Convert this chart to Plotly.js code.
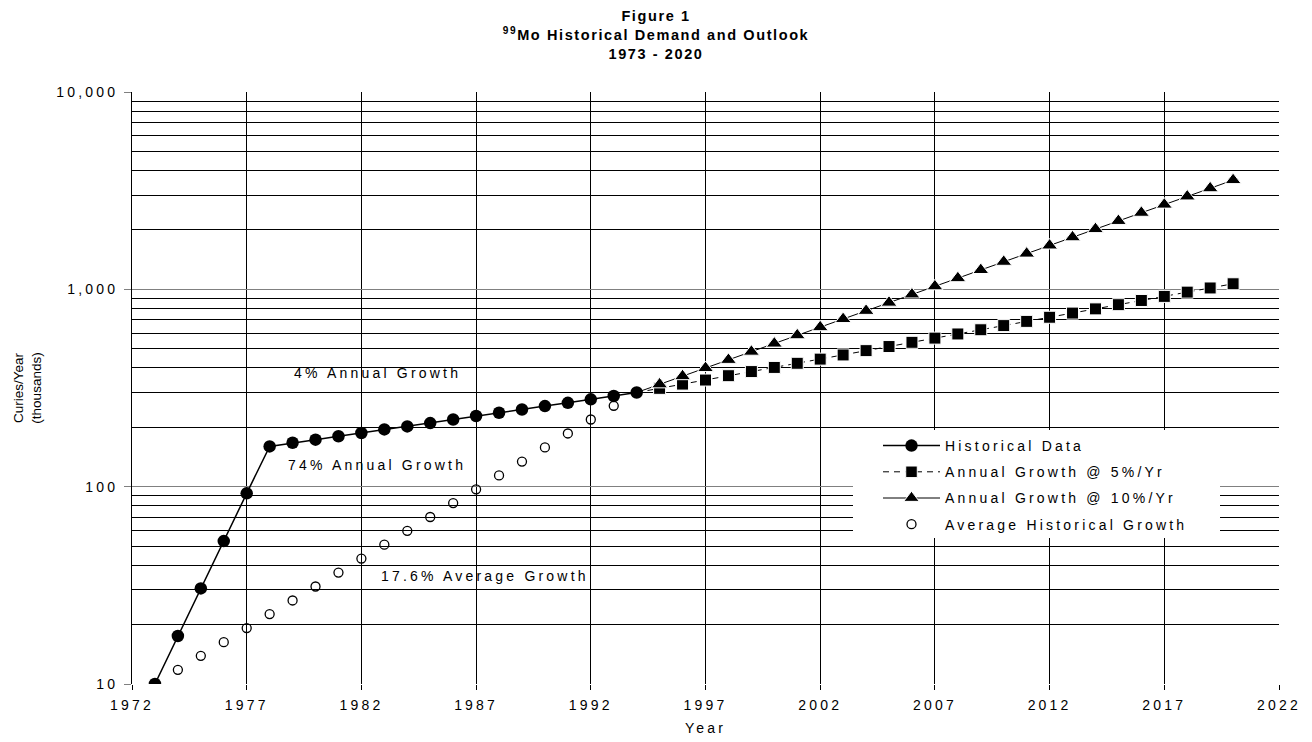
<!DOCTYPE html>
<html>
<head>
<meta charset="utf-8">
<script src="https://cdn.plot.ly/plotly-3.0.1.min.js"></script>
<style>
  html, body { margin: 0; padding: 0; background: #fff; }
  #chart { width: 1312px; height: 742px; }
  .gtitle { letter-spacing: 1.6px; }
  .xtick text, .ytick text, .legendtext, .annotation-text, .xtitle { letter-spacing: 3.2px; }
</style>
</head>
<body>
<div id="chart"></div>
<script>
// ---- Data ----
const histYears = [1973,1974,1975,1976,1977,1978,1979,1980,1981,1982,1983,1984,1985,1986,1987,1988,1989,1990,1991,1992,1993,1994];
const histValues = [10,17.5,30.5,53,92.5,160,167,173,180,187,195,202,210,219,228,237,246,256,266,277,288,300];

const projYears = [1995,1996,1997,1998,1999,2000,2001,2002,2003,2004,2005,2006,2007,2008,2009,2010,2011,2012,2013,2014,2015,2016,2017,2018,2019,2020];
const growth5Values = [315,331,347,365,383,402,422,443,465,489,513,539,566,594,624,655,688,722,758,796,836,878,921,968,1016,1067];
const growth10Values = [330,363,399,439,483,531,585,643,707,778,856,942,1036,1139,1253,1379,1517,1668,1835,2019,2221,2443,2687,2956,3252,3577];

const avgYears = [1974,1975,1976,1977,1978,1979,1980,1981,1982,1983,1984,1985,1986,1987,1988,1989,1990,1991,1992,1993];
const avgValues = [11.8,13.9,16.3,19.2,22.6,26.5,31.2,36.7,43.2,50.8,59.7,70.2,82.6,97,114,134,158,186,219,257];

const seriesNames = ['Historical Data','Annual Growth @ 5%/Yr','Annual Growth @ 10%/Yr','Average Historical Growth'];
const yTickVals = [10,100,1000,10000];
const yTickText = ['10','100','1,000','10,000'];

const noteTexts = ['4% Annual Growth','74% Annual Growth','17.6% Average Growth'];
const noteYears = [1982.7,1982.7,1987.4];
const noteValues = [377,129,35.2];

// ---- Build ----
const FONT = 'Liberation Sans, Arial, sans-serif';
const baseYear = histYears[histYears.length-1];
const baseVal = histValues[histValues.length-1];

const minorVals = [];
[10,100,1000].forEach(d => { for (let k=2;k<=9;k++) minorVals.push(d*k); });

function projSizes(n, s){ const a=[0]; for(let i=0;i<n;i++) a.push(s); return a; }

// plot area in pixels (for the legend's white backing)
const PL = 132, PR = 1279, PT = 92, PB = 684;
function px2year(px){ return 1972 + (px-PL)/(PR-PL)*50; }
function py2val(py){ return Math.pow(10, 4 - (py-PT)/(PB-PT)*3); }

const traces = [
  {
    x: [baseYear].concat(projYears), y: [baseVal].concat(growth5Values),
    name: seriesNames[1], mode: 'lines+markers', legendrank: 2, legendgroup: 'g2',
    line: {color:'#000', width:1, dash:'6px,5px'},
    marker: {symbol:'square', color:'#000', opacity: 1, size: projSizes(projYears.length, 12)}
  },
  {
    x: [baseYear].concat(projYears), y: [baseVal].concat(growth10Values),
    name: seriesNames[2], mode: 'lines+markers', legendrank: 3, legendgroup: 'g3',
    line: {color:'#000', width:1},
    marker: {symbol:'triangle-up', color:'#000', opacity: 1, size: projSizes(projYears.length, 14)}
  },
  {
    x: avgYears, y: avgValues,
    name: seriesNames[3], mode: 'markers', legendrank: 4, legendgroup: 'g4',
    marker: {symbol:'circle-open', color:'#000', size: 9, line:{width:1.3, color:'#000'}}
  },
  {
    x: histYears, y: histValues,
    name: seriesNames[0], mode: 'lines+markers', legendrank: 1, legendgroup: 'g1',
    line: {color:'#000', width:1.5},
    marker: {symbol:'circle', color:'#000', size: 12.5}
  }
];

const annotations = noteTexts.map((t,i) => ({
  x: noteYears[i], y: Math.log10(noteValues[i]), xref:'x', yref:'y',
  text: t, showarrow: false, font: {family: FONT, size: 14, color:'#000'}
}));

const layout = {
  width: 1312, height: 742,
  paper_bgcolor: '#fff', plot_bgcolor: '#fff',
  margin: {l:PL, r:1312-PR, t:PT, b:742-PB, autoexpand:false},
  font: {family: FONT, color:'#000', size: 14},
  title: {
    text: 'Figure 1<br><sup>99</sup>Mo Historical Demand and Outlook<br>1973 - 2020',
    font: {family: FONT, size: 14.5, weight: 'bold', color:'#000'},
    x: 0.5, xanchor: 'center', y: 1 - 21/742, yanchor: 'middle', yref: 'container'
  },
  xaxis: {
    range: [1972, 2022], tick0: 1972, dtick: 5,
    showgrid: true, gridcolor: '#000', gridwidth: 1,
    zeroline: false, showline: false,
    ticks: 'outside', ticklen: 5, tickcolor: '#000',
    ticklabelstandoff: 3,
    tickfont: {family: FONT, size: 14},
    title: {text: 'Year', font: {family: FONT, size: 14}, standoff: 11}
  },
  yaxis: {
    type: 'log', range: [1, 4],
    tickmode: 'array', tickvals: yTickVals, ticktext: yTickText,
    showgrid: true, gridcolor: '#808080', gridwidth: 1.5,
    zeroline: false, showline: true, linecolor: '#000', linewidth: 1,
    ticks: 'outside', ticklen: 7, tickcolor: '#808080',
    ticklabelstandoff: 3,
    tickfont: {family: FONT, size: 14},
    minor: {tickmode:'array', tickvals: minorVals, showgrid: true, gridcolor:'#000', gridwidth: 1, ticks: ''},
    title: {text: 'Curies/Year<br>(thousands)', font: {family: FONT, size: 13.5}, standoff: 11}
  },
  legend: {
    x: (878-PL)/(PR-PL), y: (PB-430)/(PB-PT), xanchor: 'left', yanchor: 'top',
    bgcolor: 'rgba(0,0,0,0)', borderwidth: 0,
    font: {family: FONT, size: 14, color:'#000'},
    itemwidth: 57, traceorder: 'grouped', tracegroupgap: 5
  },
  shapes: [{
    type: 'rect', xref: 'x', yref: 'y', layer: 'between',
    x0: px2year(853), x1: px2year(1220), y0: py2val(538), y1: py2val(430),
    fillcolor: '#fff', line: {width: 0}
  }],
  annotations: annotations,
  showlegend: true
};

Plotly.newPlot('chart', traces, layout, {displayModeBar: false, staticPlot: true});
</script>
</body>
</html>
